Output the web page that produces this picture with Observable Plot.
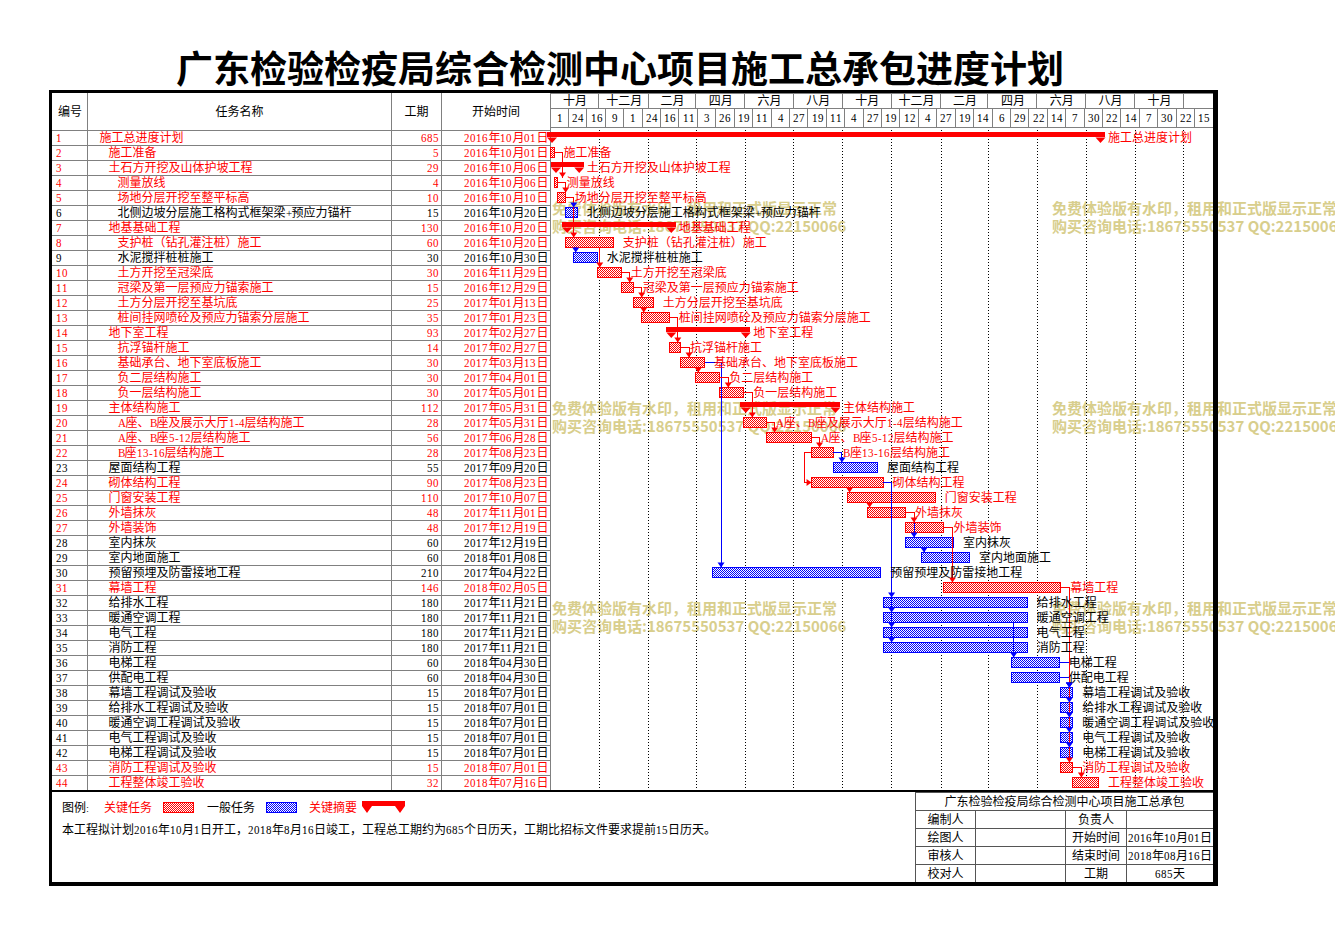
<!DOCTYPE html>
<html lang="zh-CN">
<head>
<meta charset="utf-8">
<title>广东检验检疫局综合检测中心项目施工总承包进度计划</title>
<script src="https://cdn.jsdelivr.net/npm/d3@7"></script>
<script src="https://cdn.jsdelivr.net/npm/@observablehq/plot@0.6"></script>
<style>
@font-face { font-family: "LatinNarrow"; src: local("Liberation Serif"), local("LiberationSerif"), local("LiberationSerif-Regular"); unicode-range: U+0020-007E; size-adjust: 92%; }
html, body { margin:0; padding:0; background:#fff; }
#page { position:relative; width:1335px; height:933px; overflow:hidden; font-family:"LatinNarrow","Noto Sans CJK SC",sans-serif; font-size:12px; color:#000; }
.abs { position:absolute; }
#title { left:0; width:1240px; top:45px; text-align:center; font-family:"Noto Sans CJK SC",sans-serif; font-weight:700; font-size:37px; line-height:44px; z-index:3; }
.wm { position:absolute; color:#d8ce8c; font-family:"Noto Sans CJK SC",sans-serif; font-weight:700; font-size:15px; line-height:18px; white-space:nowrap; z-index:1; }
#frame { left:49px; top:90px; width:1169px; height:796px; box-sizing:border-box; border:3px solid #000; border-right-width:5px; border-bottom-width:4px; z-index:6; pointer-events:none; }
.plotbox { position:absolute; z-index:2; }
#bottomRule { left:52px; top:790px; width:1161px; height:2px; background:#000; z-index:4; }
.lg { position:absolute; line-height:14px; white-space:nowrap; z-index:2; }
#info { position:absolute; left:915px; top:792px; width:298px; border-collapse:collapse; z-index:2; table-layout:fixed; }
#info td { border:1px solid #555; height:17px; padding:0; text-align:center; line-height:16px; font-size:12px; white-space:nowrap; overflow:hidden; }
</style>
</head>
<body>
<svg width="0" height="0" style="position:absolute">
  <defs>
    <pattern id="patRed" width="2" height="2" patternUnits="userSpaceOnUse">
      <rect width="2" height="2" fill="#ffffff"/>
      <rect width="1" height="1" fill="#ff0000"/>
      <rect x="1" y="1" width="1" height="1" fill="#ff0000"/>
    </pattern>
    <pattern id="patBlue" width="2" height="2" patternUnits="userSpaceOnUse">
      <rect width="2" height="2" fill="#ffffff"/>
      <rect width="1" height="1" fill="#0000ff"/>
      <rect x="1" y="1" width="1" height="1" fill="#0000ff"/>
    </pattern>
  </defs>
</svg>
<div id="page">
  <div id="title" class="abs">广东检验检疫局综合检测中心项目施工总承包进度计划</div>
  <div id="frame" class="abs"></div>
  <div id="tableBox" class="plotbox" style="left:52px;top:93px;"></div>
  <div id="headerBox" class="plotbox" style="left:550px;top:93px;"></div>
  <div id="ganttBox" class="plotbox" style="left:550px;top:130px;"></div>
  <div id="bottomRule" class="abs"></div>
  <div id="legend"></div>
  <table id="info"></table>
</div>
<script>
// ================= DATA =================
const taskIds = [1,2,3,4,5,6,7,8,9,10,11,12,13,14,15,16,17,18,19,20,21,22,23,24,25,26,27,28,29,30,31,32,33,34,35,36,37,38,39,40,41,42,43,44];
const taskNames = [
  "施工总进度计划","施工准备","土石方开挖及山体护坡工程","测量放线","场地分层开挖至整平标高",
  "北侧边坡分层施工格构式框架梁+预应力锚杆","地基基础工程","支护桩（钻孔灌注桩）施工","水泥搅拌桩桩施工","土方开挖至冠梁底",
  "冠梁及第一层预应力锚索施工","土方分层开挖至基坑底","桩间挂网喷砼及预应力锚索分层施工","地下室工程","抗浮锚杆施工",
  "基础承台、地下室底板施工","负二层结构施工","负一层结构施工","主体结构施工","A座、B座及展示大厅1-4层结构施工",
  "A座、B座5-12层结构施工","B座13-16层结构施工","屋面结构工程","砌体结构工程","门窗安装工程",
  "外墙抹灰","外墙装饰","室内抹灰","室内地面施工","预留预埋及防雷接地工程",
  "幕墙工程","给排水工程","暖通空调工程","电气工程","消防工程",
  "电梯工程","供配电工程","幕墙工程调试及验收","给排水工程调试及验收","暖通空调工程调试及验收",
  "电气工程调试及验收","电梯工程调试及验收","消防工程调试及验收","工程整体竣工验收"];
const durations = [685,5,29,4,10,15,130,60,30,30,15,25,35,93,14,30,30,30,112,28,56,28,55,90,110,48,48,60,60,210,146,180,180,180,180,60,60,15,15,15,15,15,15,32];
const startDates = [
  "2016-10-01","2016-10-01","2016-10-06","2016-10-06","2016-10-10","2016-10-20","2016-10-20","2016-10-20","2016-10-30","2016-11-29",
  "2016-12-29","2017-01-13","2017-01-23","2017-02-27","2017-02-27","2017-03-13","2017-04-01","2017-05-01","2017-05-31","2017-05-31",
  "2017-06-28","2017-08-23","2017-09-20","2017-08-23","2017-10-07","2017-11-01","2017-12-19","2017-12-19","2018-01-08","2017-04-22",
  "2018-02-05","2017-11-21","2017-11-21","2017-11-21","2017-11-21","2018-04-30","2018-04-30","2018-07-01","2018-07-01","2018-07-01",
  "2018-07-01","2018-07-01","2018-07-01","2018-07-16"];
const taskLevels = [1,2,2,3,3,3,2,3,3,3,3,3,3,2,3,3,3,3,2,3,3,3,2,2,2,2,2,2,2,2,2,2,2,2,2,2,2,2,2,2,2,2,2,2];
// S = 关键摘要, C = 关键任务, N = 一般任务
const taskTypes = ["S","C","S","C","C","N","S","C","N","C","C","C","C","S","C","C","C","C","S","C","C","C","N","C","C","C","C","N","N","N","C","N","N","N","N","N","N","N","N","N","N","N","C","C"];
// predecessor -> successor (SS = start-to-start)
const links = [[2,4],[4,5],[5,6],[5,8],[8,9],[8,10],[10,11],[11,12],[12,13],[13,15],[15,16],[16,17],[16,30],[17,18],[18,20],[20,21],[21,22],[22,23],[22,24,"SS"],[24,25],[24,32],[24,33],[24,34],[24,35],[25,26],[26,27],[26,28],[28,29],[27,31],[33,36],[31,38],[31,39],[31,40],[31,41],[31,42],[31,43],[36,38],[37,38],[43,44]];
const tableHeaders = ["编号","任务名称","工期","开始时间"];
const monthStarts = ["2016-10-01","2016-12-01","2017-02-01","2017-04-01","2017-06-01","2017-08-01","2017-10-01","2017-12-01","2018-02-01","2018-04-01","2018-06-01","2018-08-01","2018-10-01","2018-12-01"];
const monthLabels = ["十月","十二月","二月","四月","六月","八月","十月","十二月","二月","四月","六月","八月","十月",""];
const dayTickDates = ["2016-10-01","2016-10-24","2016-11-16","2016-12-09","2017-01-01","2017-01-24","2017-02-16","2017-03-11","2017-04-03","2017-04-26","2017-05-19","2017-06-11","2017-07-04","2017-07-27","2017-08-19","2017-09-11","2017-10-04","2017-10-27","2017-11-19","2017-12-12","2018-01-04","2018-01-27","2018-02-19","2018-03-14","2018-04-06","2018-04-29","2018-05-22","2018-06-14","2018-07-07","2018-07-30","2018-08-22","2018-09-14","2018-10-07","2018-10-30","2018-11-22","2018-12-15"];
const timelineEnd = "2019-01-07";
const watermarkLines = ["免费体验版有水印，租用和正式版显示正常","购买咨询电话:18675550537 QQ:22150066"];
const legendLabels = ["图例:","关键任务","一般任务","关键摘要"];
const noteText = "本工程拟计划2016年10月1日开工，2018年8月16日竣工，工程总工期约为685个日历天，工期比招标文件要求提前15日历天。";
const infoTitle = "广东检验检疫局综合检测中心项目施工总承包";
const infoRows = [["编制人","","负责人",""],["绘图人","","开始时间","2016年10月01日"],["审核人","","结束时间","2018年08月16日"],["校对人","","工期","685天"]];

// ================= LAYOUT =================
const FONT = '"LatinNarrow","Noto Sans CJK SC",sans-serif';
const RED = "#ff0000", BLUE = "#0000ff", GRID = "#808080";
const W_TABLE = 498, W_GANTT = 663, ROW_PX = 15, NROWS = taskIds.length;
const HEADER_PX = 37;
const headerH = HEADER_PX / ROW_PX;
const colEdges = [0, 35, 339, 389, 498];
const BAR_TOP = 2/15, BAR_MID = 7/15, BAR_BOT = 12/15;
const fmtDate = d3.utcFormat("%Y年%m月%d日");
const fmtDay = d3.utcFormat("%-d");

const tasks = taskIds.map((id, i) => {
  const start = new Date(startDates[i]);
  return {id, row: i, name: taskNames[i], dur: durations[i], start,
          end: d3.utcDay.offset(start, durations[i]), type: taskTypes[i], level: taskLevels[i]};
});
const byId = new Map(tasks.map(t => [t.id, t]));
const textColor = t => t.type === "N" ? "#000000" : RED;

const xDomain = [new Date(monthStarts[0]), new Date(timelineEnd)];
const pxPerMs = W_GANTT / (xDomain[1] - xDomain[0]);
const shift = (d, px) => new Date(+d + px / pxPerMs);

// ================= TABLE =================
const table = Plot.plot({
  width: W_TABLE, height: HEADER_PX + NROWS * ROW_PX, margin: 0,
  style: {background: "transparent", fontFamily: FONT, fontSize: "12px", overflow: "visible"},
  color: {type: "identity"},
  x: {domain: [0, W_TABLE], range: [0, W_TABLE], axis: null},
  y: {domain: [-headerH, NROWS], range: [0, HEADER_PX + NROWS * ROW_PX], axis: null},
  marks: [
    Plot.ruleY(d3.range(0, NROWS + 1), {x1: 0, x2: W_TABLE, stroke: GRID, shapeRendering: "crispEdges"}),
    Plot.ruleX(colEdges.slice(1), {y1: -headerH, y2: NROWS, stroke: GRID, shapeRendering: "crispEdges"}),
    Plot.text(tableHeaders, {x: (d, i) => (colEdges[i] + colEdges[i + 1]) / 2, y: -headerH / 2, text: d => d, fontSize: 12, fill: "#000"}),
    Plot.text(tasks, {x: () => colEdges[0], dx: 3, y: d => d.row + 0.5, text: d => String(d.id), textAnchor: "start", fill: textColor, fontSize: 12}),
    Plot.text(tasks, {x: d => colEdges[1] + 12 + 9 * (d.level - 1), y: d => d.row + 0.5, text: "name", textAnchor: "start", fill: textColor, fontSize: 12}),
    Plot.text(tasks, {x: () => colEdges[3], dx: -3, y: d => d.row + 0.5, text: d => String(d.dur), textAnchor: "end", fill: textColor, fontSize: 12}),
    Plot.text(tasks, {x: () => colEdges[4], dx: -2, y: d => d.row + 0.5, text: d => fmtDate(d.start), textAnchor: "end", fill: textColor, fontSize: 12})
  ]
});
document.getElementById("tableBox").appendChild(table);

// ================= TIMELINE HEADER =================
const monthCells = monthStarts.map((s, i) => ({
  start: new Date(s), end: new Date(i + 1 < monthStarts.length ? monthStarts[i + 1] : timelineEnd), label: monthLabels[i]}));
const dayCells = dayTickDates.map((s, i) => ({
  start: new Date(s), end: new Date(i + 1 < dayTickDates.length ? dayTickDates[i + 1] : timelineEnd), label: fmtDay(new Date(s))}));
const mid = d => new Date((+d.start + +d.end) / 2);

const header = Plot.plot({
  width: W_GANTT, height: 34, margin: 0,
  style: {background: "transparent", fontFamily: FONT, fontSize: "12px", overflow: "visible"},
  x: {type: "utc", domain: xDomain, range: [0, W_GANTT], axis: null},
  y: {type: "linear", domain: [0, 1, 2], range: [0, 15.5, 34], axis: null},
  marks: [
    Plot.rect(monthCells, {x1: "start", x2: "end", y1: 0, y2: 1, stroke: GRID, fill: "none", shapeRendering: "crispEdges"}),
    Plot.rect(dayCells, {x1: "start", x2: "end", y1: 1, y2: 2, stroke: GRID, fill: "none", shapeRendering: "crispEdges"}),
    Plot.text(monthCells, {x: mid, y: 0.5, text: "label", fontSize: 12, fill: "#000"}),
    Plot.text(dayCells, {x: mid, y: 1.5, text: "label", fontSize: 12, fill: "#000"})
  ]
});
document.getElementById("headerBox").appendChild(header);

// ================= GANTT BODY =================
const linkPaths = [], linkArrows = [];
links.forEach(([a, b, kind], k) => {
  const p = byId.get(a), s = byId.get(b);
  const stroke = (p.type !== "N" && s.type !== "N") ? RED : BLUE;
  let pts, arrow;
  if (kind === "SS") {
    const xv = shift(p.start, -7);
    pts = [[p.start, p.row + BAR_MID], [xv, p.row + BAR_MID], [xv, s.row + BAR_MID], [s.start, s.row + BAR_MID]];
    arrow = {x: s.start, y: s.row + BAR_MID, dir: "right"};
  } else if (+s.start < +shift(p.end, -4)) {
    const xv = shift(s.start, 2);
    pts = [[xv, p.row + BAR_BOT], [xv, s.row + BAR_TOP]];
    arrow = {x: xv, y: s.row + BAR_TOP, dir: "down"};
  } else {
    const xv = shift(d3.max([p.end, s.start]), 8);
    pts = [[p.end, p.row + BAR_MID], [xv, p.row + BAR_MID], [xv, s.row + BAR_TOP]];
    arrow = {x: xv, y: s.row + BAR_TOP, dir: "down"};
  }
  pts.forEach(([x, y]) => linkPaths.push({k, x, y, stroke}));
  linkArrows.push({...arrow, stroke});
});

const arrowDown = {draw(ctx) { ctx.moveTo(-3.5, -5); ctx.lineTo(3.5, -5); ctx.lineTo(0, 0); ctx.closePath(); }};
const arrowRight = {draw(ctx) { ctx.moveTo(-5, -3.5); ctx.lineTo(-5, 3.5); ctx.lineTo(0, 0); ctx.closePath(); }};
const summaryTri = {draw(ctx) { ctx.moveTo(-5, 0); ctx.lineTo(5, 0); ctx.lineTo(0, 5.5); ctx.closePath(); }};

const summaries = tasks.filter(t => t.type === "S");
const summaryEnds = summaries.flatMap(t => [{x: t.start, row: t.row}, {x: t.end, row: t.row}]);
const gridLines = monthStarts.slice(1).map(s => new Date(s));

const gantt = Plot.plot({
  width: W_GANTT, height: NROWS * ROW_PX, margin: 0,
  style: {background: "transparent", fontFamily: FONT, fontSize: "12px", overflow: "visible"},
  color: {type: "identity"},
  x: {type: "utc", domain: xDomain, range: [0, W_GANTT], axis: null},
  y: {domain: [0, NROWS], range: [0, NROWS * ROW_PX], axis: null},
  marks: [
    Plot.ruleX(gridLines, {stroke: "#000", strokeDasharray: "1,2", shapeRendering: "crispEdges"}),
    Plot.rect(tasks.filter(t => t.type === "N"), {x1: "start", x2: "end", y1: "row", y2: d => d.row + 1, insetTop: 2, insetBottom: 3, fill: "url(#patBlue)", stroke: BLUE, shapeRendering: "crispEdges"}),
    Plot.rect(tasks.filter(t => t.type === "C"), {x1: "start", x2: "end", y1: "row", y2: d => d.row + 1, insetTop: 2, insetBottom: 3, fill: "url(#patRed)", stroke: RED, shapeRendering: "crispEdges"}),
    Plot.rect(summaries, {x1: "start", x2: "end", y1: "row", y2: d => d.row + 1, insetTop: 2, insetBottom: 8, insetLeft: -3.5, insetRight: -6.5, fill: RED, shapeRendering: "crispEdges"}),
    Plot.dot(summaryEnds, {x: "x", y: d => d.row + BAR_MID, dx: 1.5, symbol: summaryTri, fill: RED, stroke: "none"}),
    Plot.line(linkPaths.filter(d => d.stroke === BLUE), {x: "x", y: "y", z: "k", stroke: BLUE, strokeWidth: 1, shapeRendering: "crispEdges"}),
    Plot.line(linkPaths.filter(d => d.stroke === RED), {x: "x", y: "y", z: "k", stroke: RED, strokeWidth: 1, shapeRendering: "crispEdges"}),
    Plot.dot(linkArrows.filter(d => d.dir === "down"), {x: "x", y: "y", symbol: arrowDown, fill: "stroke", stroke: "none"}),
    Plot.dot(linkArrows.filter(d => d.dir === "right"), {x: "x", y: "y", symbol: arrowRight, fill: "stroke", stroke: "none"}),
    Plot.text(tasks, {x: "end", y: d => d.row + 0.5, text: "name", dx: 9, textAnchor: "start", fill: textColor, fontSize: 12})
  ]
});
document.getElementById("ganttBox").appendChild(gantt);

// ================= WATERMARK =================
const page = document.getElementById("page");
[552, 1052].forEach(left => [199, 399, 599].forEach(top => {
  const w = document.createElement("div");
  w.className = "wm";
  w.style.left = left + "px"; w.style.top = top + "px";
  w.innerHTML = watermarkLines.map(s => `<div>${s}</div>`).join("");
  page.appendChild(w);
}));

// ================= LEGEND =================
const legend = document.getElementById("legend");
const addLg = (html, left, top, color) => {
  const s = document.createElement("div");
  s.className = "lg"; s.style.left = left + "px"; s.style.top = top + "px";
  if (color) s.style.color = color;
  s.innerHTML = html; legend.appendChild(s);
};
addLg(legendLabels[0], 62, 801, "#000");
addLg(legendLabels[1], 104, 801, RED);
addLg(`<svg width="31" height="11"><rect x="0.5" y="0.5" width="30" height="10" fill="url(#patRed)" stroke="${RED}"/></svg>`, 163, 802);
addLg(legendLabels[2], 207, 801, "#000");
addLg(`<svg width="31" height="11"><rect x="0.5" y="0.5" width="30" height="10" fill="url(#patBlue)" stroke="${BLUE}"/></svg>`, 266, 802);
addLg(legendLabels[3], 309, 801, RED);
addLg(`<svg width="44" height="13"><rect x="0" y="0" width="43" height="5" fill="${RED}"/><path d="M0,5 L10,5 L5,12 Z M33,5 L43,5 L38,12 Z" fill="${RED}"/></svg>`, 362, 801);
addLg(noteText, 62, 823, "#000");

// ================= INFO BLOCK =================
const info = document.getElementById("info");
info.innerHTML = `<colgroup><col style="width:60px"><col style="width:90px"><col style="width:61px"><col style="width:87px"></colgroup>` +
  `<tr><td colspan="4">${infoTitle}</td></tr>` +
  infoRows.map(r => `<tr>${r.map(c => `<td>${c}</td>`).join("")}</tr>`).join("");
</script>
</body>
</html>
